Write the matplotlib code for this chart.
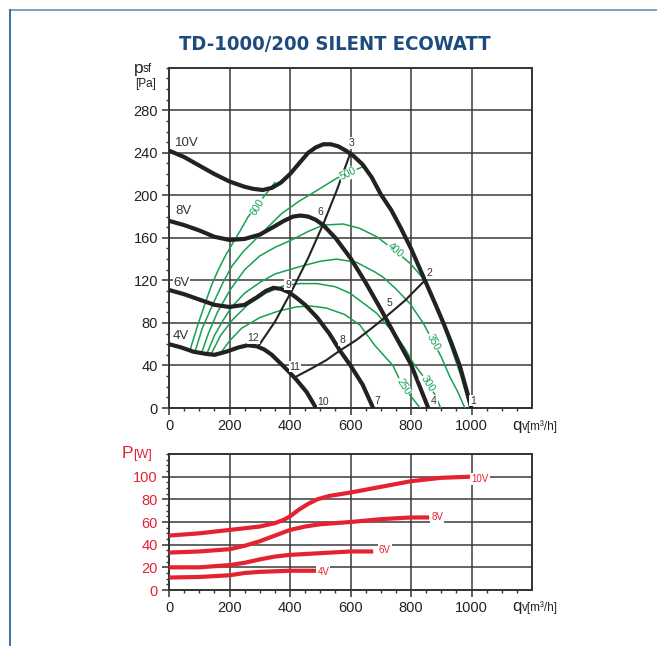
import matplotlib
matplotlib.use('Agg')
import matplotlib.pyplot as plt
from matplotlib.lines import Line2D
from matplotlib.ticker import MultipleLocator

# --- fan curves psf [Pa] vs qv [m3/h] ---
q_10v = [0, 50, 100, 150, 200, 250, 280, 310, 340, 370, 400, 430, 460, 485, 510, 535, 560, 585, 610, 640, 670, 700, 735, 765, 800, 846, 880, 907, 935, 962, 1000]
p_10v = [242, 236, 228, 220, 213, 208, 206, 205, 207, 212, 220, 230, 240, 245, 248, 248, 246, 242, 237, 229, 217, 201, 186, 170, 150, 120, 98, 80, 60, 39, 0]
q_8v = [0, 50, 100, 150, 200, 250, 300, 350, 380, 410, 435, 460, 485, 510, 550, 600, 650, 700, 750, 800, 857]
p_8v = [176, 172, 167, 161, 158, 159, 163, 171, 176, 180, 181, 180, 177, 172, 160, 141, 118, 93, 67, 41, 0]
q_6v = [0, 50, 100, 150, 200, 250, 290, 320, 345, 370, 395, 420, 450, 490, 530, 565, 600, 640, 675]
p_6v = [111, 107, 102, 97, 95, 97, 104, 110, 113, 112, 109, 104, 97, 85, 70, 54, 40, 22, 0]
q_4v = [0, 40, 80, 120, 150, 190, 230, 260, 290, 315, 340, 365, 390, 420, 455, 486]
p_4v = [60, 57, 53, 51, 50, 53, 57, 59, 58, 55, 50, 43, 36, 27, 15, 0]

# system curves (thin black)
q_sys1 = [295, 350, 411, 460, 510, 555, 600]
p_sys1 = [58, 81, 113, 141, 173, 205, 240]
q_sys2 = [417, 470, 520, 565, 620, 670, 722, 780, 846]
p_sys2 = [29, 37, 45, 54, 64, 75, 87, 101, 120]

# green iso curves
q_600 = [69, 95, 119, 140, 163, 188, 213, 238, 262, 284, 306, 328, 350]
p_600 = [54, 78, 98, 115, 130, 144, 156, 168, 180, 188, 196, 204, 212]
q_500 = [86, 110, 141, 175, 207, 245, 284, 330, 373, 433, 480, 520, 554, 593, 642]
p_500 = [53, 75, 95, 116, 133, 147, 158, 171, 183, 195, 203, 210, 216, 221, 227]
q_400 = [108, 130, 160, 202, 250, 300, 350, 405, 460, 510, 576, 630, 687, 747, 797, 846, 875, 905, 935, 965, 995]
p_400 = [52, 70, 90, 111, 130, 143, 151, 158, 166, 172, 173, 169, 161, 148, 136, 120, 100, 80, 55, 30, 0]
q_350 = [125, 150, 180, 207, 250, 300, 350, 433, 500, 554, 620, 680, 708, 750, 797, 840, 874, 900, 929, 955, 978]
p_350 = [51, 68, 83, 95, 108, 118, 126, 133, 138, 140, 137, 128, 123, 112, 98, 80, 62, 48, 29, 15, 0]
q_300 = [140, 170, 210, 260, 320, 380, 433, 490, 550, 598, 650, 687, 720, 753, 780, 808, 835, 857, 880, 898]
p_300 = [51, 68, 83, 97, 108, 115, 117, 117, 114, 108, 97, 89, 78, 67, 56, 42, 32, 23, 12, 0]
q_250 = [174, 200, 240, 300, 360, 420, 466, 520, 580, 631, 680, 740, 774, 800, 830]
p_250 = [53, 63, 75, 85, 91, 95, 96, 94, 88, 78, 59, 40, 20, 11, 0]

# --- power P [W] ---
qp_10v = [0, 100, 200, 300, 350, 380, 400, 430, 460, 490, 530, 600, 700, 800, 900, 1000]
P_10v = [48, 50, 53, 56, 59, 62, 65, 71, 76, 80, 83, 86, 91, 96, 99, 100]
qp_8v = [0, 100, 200, 250, 300, 350, 400, 450, 500, 600, 700, 800, 860]
P_8v = [33, 34, 36, 39, 43, 48, 53, 56, 58, 60, 62.5, 64, 64]
qp_6v = [0, 100, 200, 250, 300, 350, 400, 500, 600, 675]
P_6v = [20, 20, 22, 24, 27, 29.5, 31, 32.5, 34, 34]
qp_4v = [0, 100, 200, 250, 300, 350, 400, 488]
P_4v = [11, 11.5, 13, 15, 16, 16.5, 17, 17]

W, H = 657, 646
FONT = ['Liberation Sans', 'DejaVu Sans']
GREEN = '#17a050'
RED = '#e52230'
plt.rcParams['font.family'] = FONT

fig = plt.figure(figsize=(W / 100, H / 100), dpi=100)

def fx(px):
    return px / W

def fy(py):
    return 1 - py / H

def style_axes(ax, ycol):
    ax.set_xlim(0, 1200)
    ax.set_xticks([0, 200, 400, 600, 800, 1000])
    ax.set_xticks([x for x in range(50, 1200, 50) if x % 200], minor=True)
    ax.grid(True, which='major', color='#3a3a3a', lw=1.1)
    ax.set_axisbelow(True)
    for s in ax.spines.values():
        s.set_color('#333333')
        s.set_linewidth(1.4)
    ax.tick_params(which='major', length=5, width=1.1, color='#333333', labelsize=10.5, pad=3)
    ax.tick_params(which='minor', length=2.5, width=1, color='#333333')
    ax.tick_params(axis='x', labelcolor='#222222')
    ax.tick_params(axis='y', labelcolor=ycol)

# ---------------- top chart ----------------
ax = fig.add_axes([fx(169), fy(408), fx(532) - fx(169), fy(67.7) - fy(408)])
style_axes(ax, '#222222')
ax.set_ylim(0, 320)
ax.set_yticks(range(0, 281, 40))
ax.yaxis.set_minor_locator(MultipleLocator(10))

green = [(q_600, p_600), (q_500, p_500), (q_400, p_400), (q_350, p_350), (q_300, p_300), (q_250, p_250)]
for q, p in green:
    ax.plot(q, p, color=GREEN, lw=1.1, zorder=3)

ax.plot(q_sys1, p_sys1, color='#222222', lw=1.5, zorder=4)
ax.plot(q_sys2, p_sys2, color='#222222', lw=1.5, zorder=4)

for q, p in [(q_10v, p_10v), (q_8v, p_8v), (q_6v, p_6v), (q_4v, p_4v)]:
    ax.plot(q, p, color='#222222', lw=3.0, solid_capstyle='butt', solid_joinstyle='round', zorder=5)

wbox = dict(facecolor='white', edgecolor='none', pad=0.6)
green_labels = [('600', 294, 189, 58), ('500', 593, 220, 25), ('400', 747, 148, -40),
                ('350', 874, 62, -62), ('300', 857, 23, -58), ('250', 774, 20, -58)]
for t, x, y, r in green_labels:
    ax.text(x, y, t, color=GREEN, fontsize=7.5, rotation=r, ha='center', va='center',
            bbox=wbox, zorder=6, rotation_mode='anchor')

pts = [('1', 1005, 7), ('2', 861, 127), ('3', 604, 249), ('4', 876, 7), ('5', 728, 99),
       ('6', 501, 184), ('7', 689, 7), ('8', 572, 64), ('9', 394, 116), ('10', 510, 6),
       ('11', 417, 39), ('12', 279, 66)]
for t, x, y in pts:
    ax.text(x, y, t, color='#333333', fontsize=7.5, ha='center', va='center', bbox=wbox, zorder=7)

for t, x, y in [('10V', 20, 249), ('8V', 20, 185), ('6V', 13, 118), ('4V', 13, 68)]:
    ax.text(x, y, t, color='#333333', fontsize=9.5, ha='left', va='center',
            bbox=dict(facecolor='white', edgecolor='none', pad=0.3), zorder=7)

# ---------------- bottom chart ----------------
bx = fig.add_axes([fx(169), fy(590), fx(532) - fx(169), fy(454) - fy(590)])
style_axes(bx, RED)
bx.set_ylim(0, 120)
bx.set_yticks(range(0, 101, 20))
bx.yaxis.set_minor_locator(MultipleLocator(5))
for q, p in [(qp_10v, P_10v), (qp_8v, P_8v), (qp_6v, P_6v), (qp_4v, P_4v)]:
    bx.plot(q, p, color=RED, lw=3.0, solid_capstyle='butt', solid_joinstyle='round', zorder=5)
for t, x, y in [('10V', 1028, 98), ('8V', 887, 64), ('6V', 714, 35), ('4V', 510, 16)]:
    bx.text(x, y, t, color=RED, fontsize=7, ha='center', va='center',
            bbox=dict(facecolor='white', edgecolor='none', pad=0.8), zorder=7)

# ---------------- titles and axis captions ----------------
fig.text(fx(335), fy(44), 'TD-1000/200 SILENT ECOWATT', color='#1d4b7d', fontsize=14.5,
         fontweight='bold', fontstretch='condensed', family=['DejaVu Sans'],
         ha='center', va='center')

fig.text(fx(134), fy(72.5), 'p', fontsize=12.5, color='#222222', ha='left', va='baseline')
fig.text(fx(142.5), fy(72.5), 'sf', fontsize=8.5, color='#222222', ha='left', va='baseline')
fig.text(fx(135), fy(87), '[Pa]', fontsize=8.5, color='#222222', ha='left', va='baseline')

fig.text(fx(512), fy(430), 'q', fontsize=12, color='#222222', ha='left', va='baseline')
fig.text(fx(522), fy(430), 'v[m³/h]', fontsize=8.5, color='#222222', ha='left', va='baseline')
fig.text(fx(512), fy(611), 'q', fontsize=12, color='#222222', ha='left', va='baseline')
fig.text(fx(522), fy(611), 'v[m³/h]', fontsize=8.5, color='#222222', ha='left', va='baseline')

fig.text(fx(122), fy(458), 'P', fontsize=12.5, color=RED, ha='left', va='baseline')
fig.text(fx(133), fy(458), '[W]', fontsize=9, color=RED, ha='left', va='baseline')

# frame lines of the sheet
fig.add_artist(Line2D([fx(10), 1], [fy(10), fy(10)], color='#7fa3bd', lw=1.4, transform=fig.transFigure))
fig.add_artist(Line2D([fx(10), fx(10)], [fy(10), 0], color='#3a70a8', lw=1.4, transform=fig.transFigure))

fig.savefig('out.png', dpi=100)
